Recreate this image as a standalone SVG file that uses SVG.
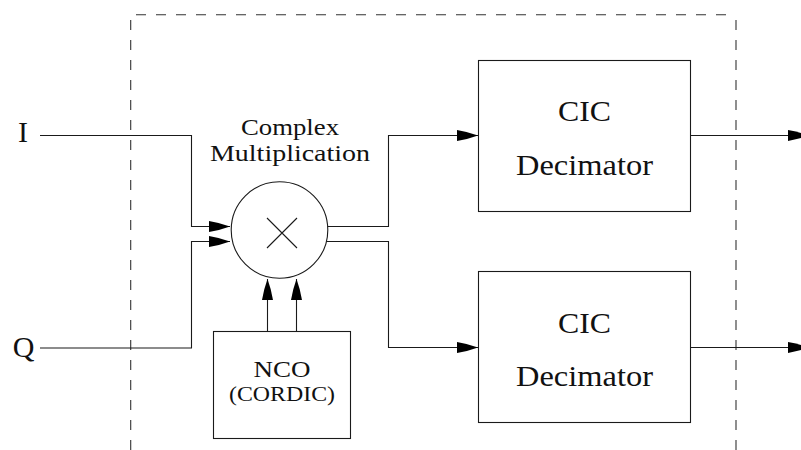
<svg xmlns="http://www.w3.org/2000/svg" width="801" height="450" viewBox="0 0 801 450">
<style>
.ln{fill:none;stroke:#1a1a1a;stroke-width:1.1}
.dash{fill:none;stroke:#333;stroke-width:1.1;stroke-dasharray:10 10}
.box{fill:#fff;stroke:#1a1a1a;stroke-width:1.1}
.t{font-family:"Liberation Serif","Times New Roman",serif;fill:#111;text-anchor:middle}
</style>
<defs>
<marker id="arr" markerUnits="userSpaceOnUse" markerWidth="22" markerHeight="12" viewBox="0 0 22 12" refX="21" refY="5.5" orient="auto">
<path d="M0,0 Q11,1.8 21,5.5 Q11,9.2 0,11 Z" fill="#000"/>
</marker>
</defs>
<g id="boundary">
<path class="dash" d="M130.7,20 V450"/>
<path class="dash" d="M736,20 V450"/>
<path class="dash" d="M136,14.7 H731"/>
</g>
<g id="connectors">
<path class="ln" d="M40,135.5 H191.5 V226.5 H230" marker-end="url(#arr)"/>
<path class="ln" d="M40,348 H191.5 V241.5 H230" marker-end="url(#arr)"/>
<path class="ln" d="M320,226.5 H388.5 V135.5 H478" marker-end="url(#arr)"/>
<path class="ln" d="M320,241.5 H388.5 V347.5 H478" marker-end="url(#arr)"/>
<path class="ln" d="M267.5,331.5 V279" marker-end="url(#arr)"/>
<path class="ln" d="M296.5,331.5 V279" marker-end="url(#arr)"/>
<path class="ln" d="M691,135.5 H809" marker-end="url(#arr)"/>
<path class="ln" d="M691,347.5 H809" marker-end="url(#arr)"/>
</g>
<g id="label-I"><text class="t" x="23" y="142" font-size="30">I</text></g>
<g id="label-Q"><text class="t" x="23.5" y="357" font-size="30">Q</text></g>
<g id="mixer">
<circle class="box" cx="279.5" cy="230" r="48.3"/>
<path class="ln" d="M267,218 L297,248 M297,218 L267,248"/>
<text class="t" x="290" y="135" font-size="24" textLength="98" lengthAdjust="spacingAndGlyphs">Complex</text>
<text class="t" x="290" y="161" font-size="24" textLength="160" lengthAdjust="spacingAndGlyphs">Multiplication</text>
</g>
<g id="nco">
<rect class="box" x="213.5" y="331.5" width="137" height="107"/>
<text class="t" x="282" y="377" font-size="24" textLength="57" lengthAdjust="spacingAndGlyphs">NCO</text>
<text class="t" x="282" y="401" font-size="21" textLength="106" lengthAdjust="spacingAndGlyphs">(CORDIC)</text>
</g>
<g id="cic-top">
<rect class="box" x="478.5" y="60.5" width="212" height="151"/>
<text class="t" x="584.5" y="121" font-size="29" textLength="53" lengthAdjust="spacingAndGlyphs">CIC</text>
<text class="t" x="584.5" y="174.5" font-size="29" textLength="137" lengthAdjust="spacingAndGlyphs">Decimator</text>
</g>
<g id="cic-bottom">
<rect class="box" x="478.5" y="271.5" width="212" height="151"/>
<text class="t" x="584.5" y="332.5" font-size="29" textLength="53" lengthAdjust="spacingAndGlyphs">CIC</text>
<text class="t" x="584.5" y="386" font-size="29" textLength="137" lengthAdjust="spacingAndGlyphs">Decimator</text>
</g>
</svg>
